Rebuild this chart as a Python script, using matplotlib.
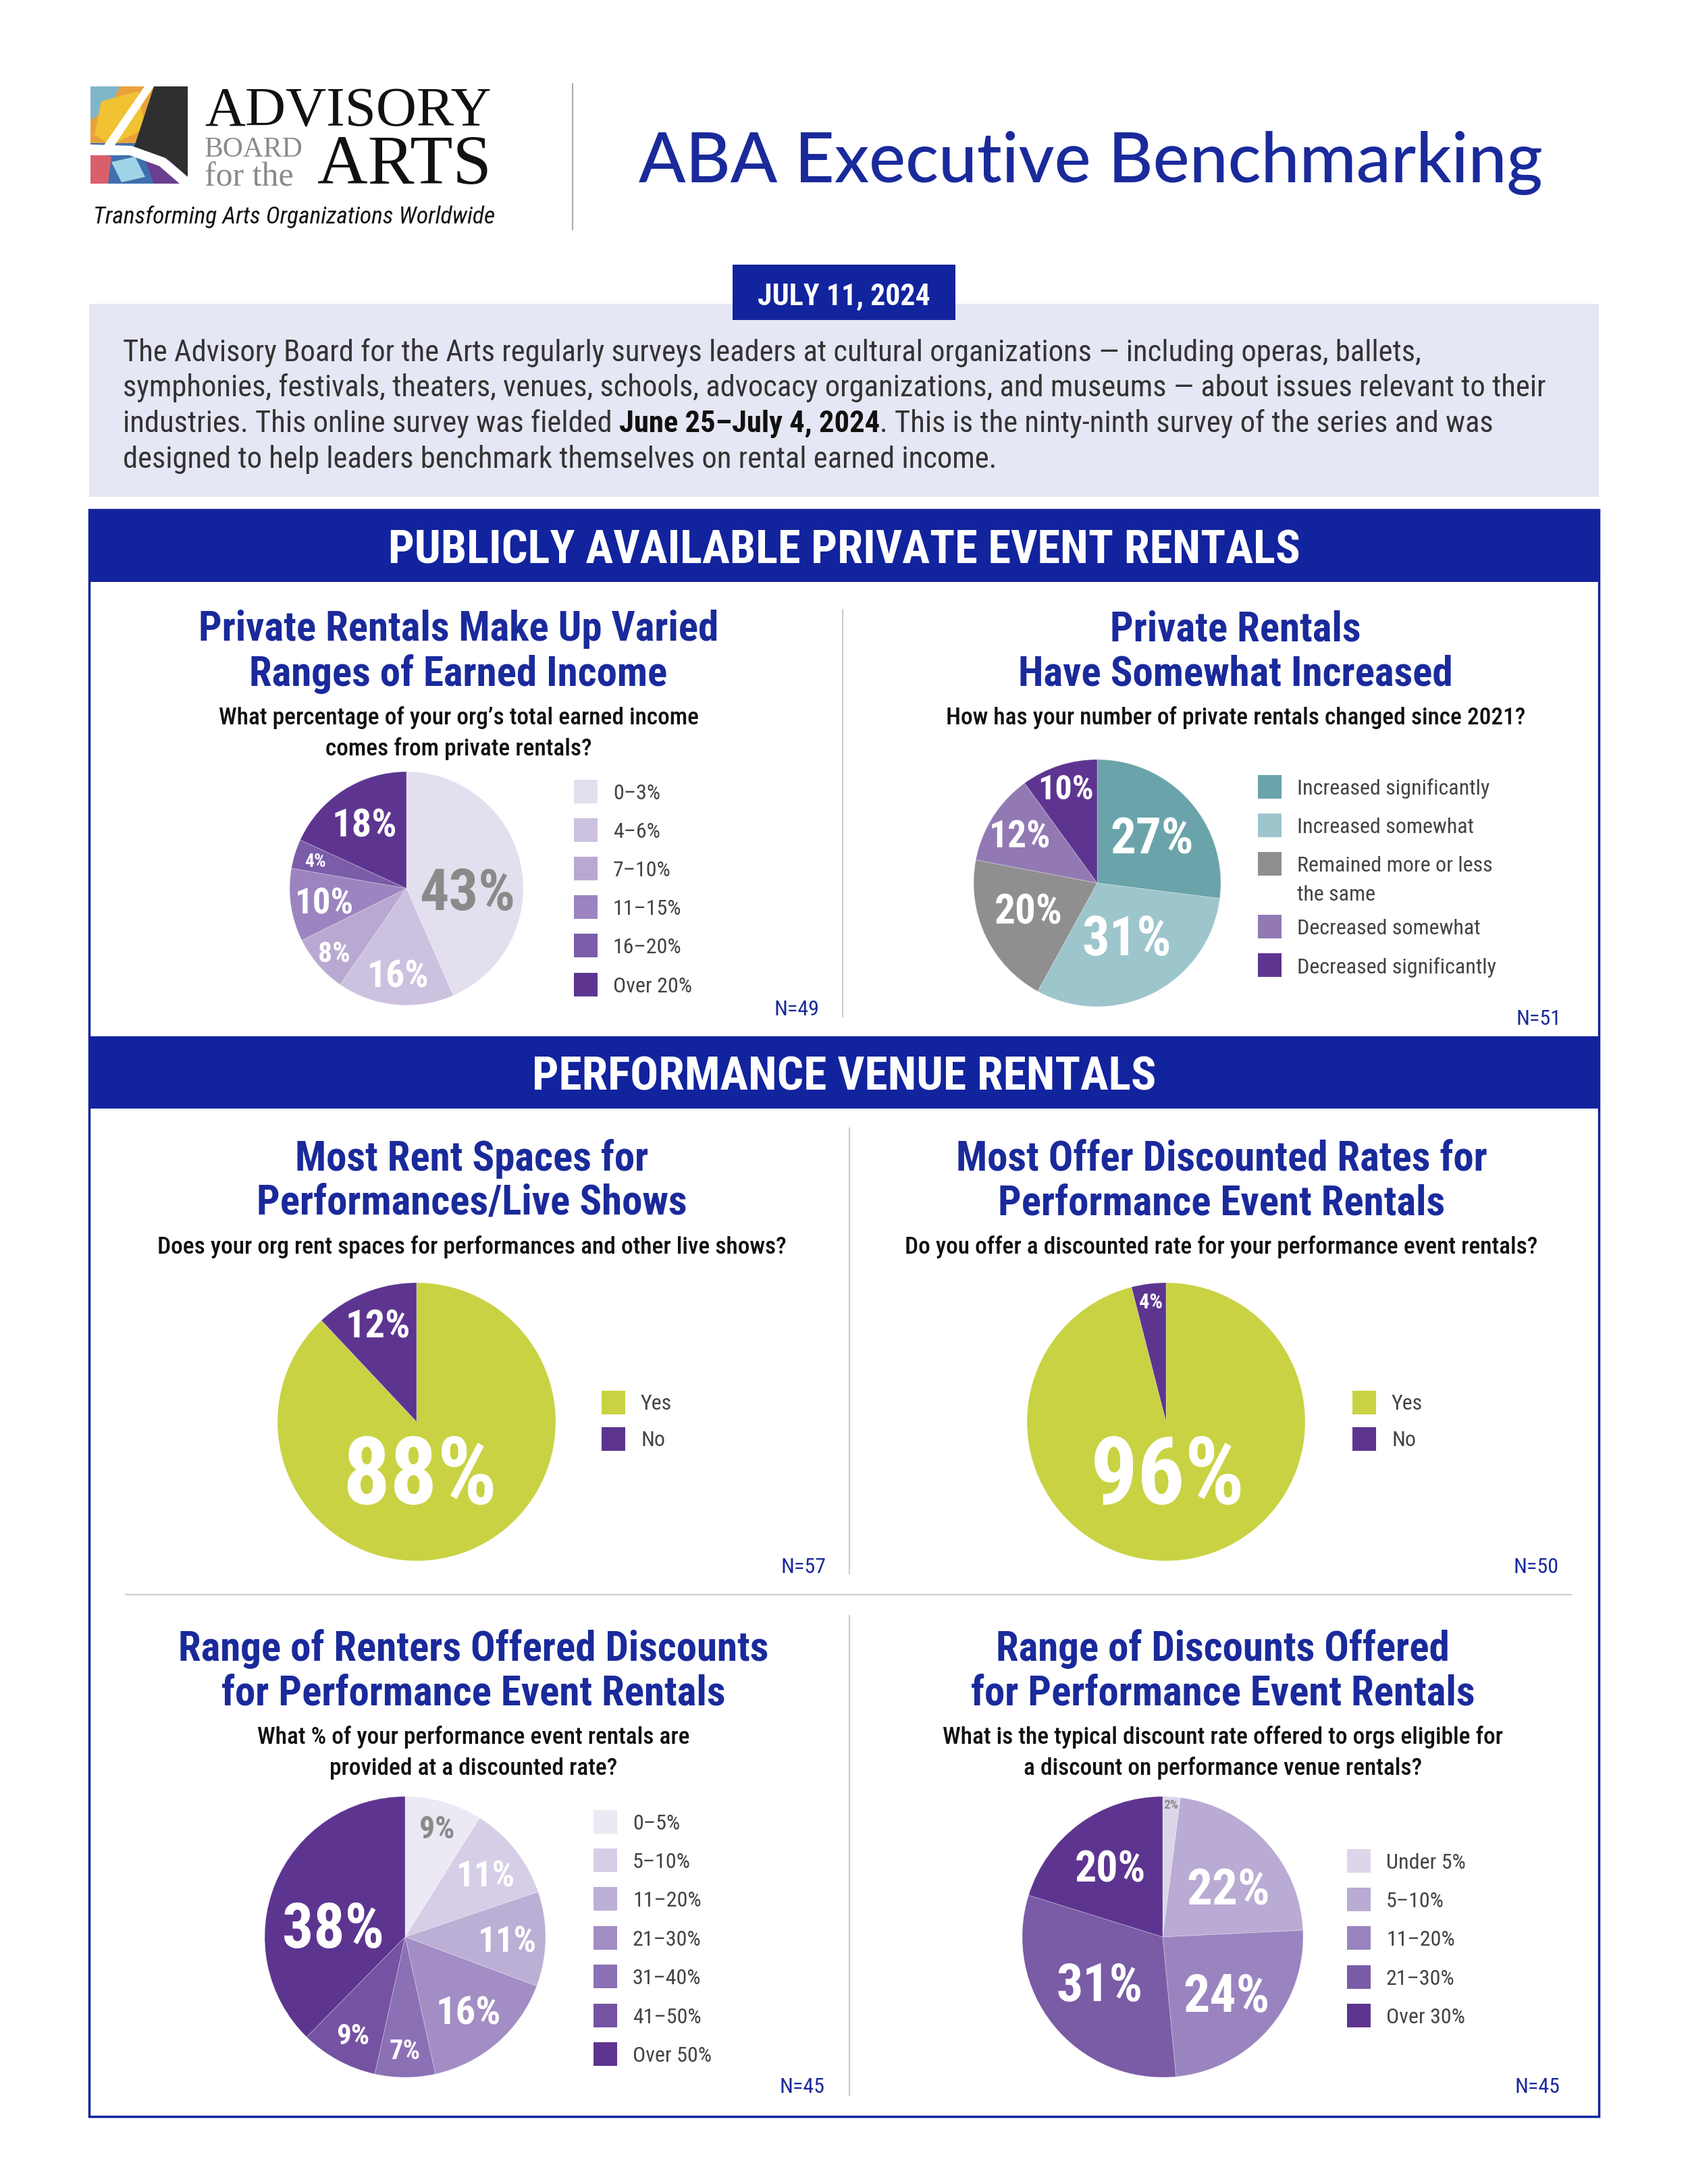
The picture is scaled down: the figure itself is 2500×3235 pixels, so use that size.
import matplotlib
matplotlib.use('Agg')
import matplotlib.pyplot as plt
from matplotlib import font_manager
from matplotlib.patches import Rectangle, Polygon
import numpy as np

W, H = 2500, 3235

# ---------------- data ----------------
income_labels = ['0–3%', '4–6%', '7–10%', '11–15%', '16–20%', 'Over 20%']
income_values = [43, 16, 8, 10, 4, 18]

change_labels = ['Increased significantly', 'Increased somewhat',
                 'Remained more or less\nthe same', 'Decreased somewhat',
                 'Decreased significantly']
change_values = [27, 31, 20, 12, 10]

rent_labels = ['Yes', 'No']
rent_values = [88, 12]

offer_labels = ['Yes', 'No']
offer_values = [96, 4]

renters_labels = ['0–5%', '5–10%', '11–20%', '21–30%', '31–40%', '41–50%', 'Over 50%']
renters_values = [9, 11, 11, 16, 7, 9, 38]

rate_labels = ['Under 5%', '5–10%', '11–20%', '21–30%', 'Over 30%']
rate_values = [2, 22, 24, 31, 20]

sample_sizes = [49, 51, 57, 50, 45, 45]

# ---------------- styles ----------------
BLUE = '#12239e'
TITLE_BLUE = '#1a2a9b'
PURPLE = '#5d3590'
GRAY_TXT = '#8a8a8a'

income_colors = ['#e3dfee', '#ccc1df', '#b8a9d2', '#9b84c0', '#7a5ca8', PURPLE]
change_colors = ['#6aa3aa', '#9dc5cc', '#8f8f8f', '#9279b4', PURPLE]
yes_no_colors = ['#c9d242', PURPLE]
renters_colors = ['#ece9f4', '#d6cee6', '#bcafd5', '#a28dc4', '#8b70b5', '#7552a2', PURPLE]
rate_colors = ['#ddd6ea', '#b9abd3', '#9a84c0', '#7a5ba6', PURPLE]

names = {f.name for f in font_manager.fontManager.ttflist}
SANS = 'Lato' if 'Lato' in names else 'DejaVu Sans'
SERIF = 'Liberation Serif' if 'Liberation Serif' in names else 'DejaVu Serif'
COND = next((n for n in ['Roboto Condensed', 'Liberation Sans Narrow',
                         'Open Sans Condensed', 'Noto Sans Condensed'] if n in names), SANS)

fig = plt.figure(figsize=(W / 100, H / 100), dpi=100)
fig.patch.set_facecolor('white')
bg = fig.add_axes([0, 0, 1, 1])
bg.set_xlim(0, W)
bg.set_ylim(H, 0)
bg.axis('off')
renderer = fig.canvas.get_renderer()


def measure(s, size, **kw):
    t = bg.text(0, 0, s, fontsize=size, **kw)
    w = t.get_window_extent(renderer).width
    t.remove()
    return w


def fit_size(s, width, max_size, **kw):
    w = measure(s, max_size, **kw)
    return max_size if w <= width else max_size * width / w


# ---------------- header / logo ----------------
# logo icon (decorative)
bg.add_patch(Rectangle((134, 128), 144, 144, fc='#e9a23b', lw=0))
bg.add_patch(Polygon([(134, 128), (178, 128), (160, 162), (134, 178)], fc='#7fb7c9', lw=0))
bg.add_patch(Polygon([(150, 150), (205, 135), (215, 190), (165, 215), (140, 200)], fc='#f1c232', lw=0))
bg.add_patch(Rectangle((134, 212), 144, 60, fc='#3f6fae', lw=0))
bg.add_patch(Polygon([(210, 225), (278, 218), (278, 272), (228, 272)], fc='#6b3f8f', lw=0))
bg.add_patch(Polygon([(134, 225), (165, 232), (160, 272), (134, 272)], fc='#d9606a', lw=0))
bg.add_patch(Polygon([(165, 240), (200, 232), (215, 262), (180, 270)], fc='#9fd3e6', lw=0))
bg.add_patch(Polygon([(228, 128), (278, 128), (278, 262), (252, 238), (222, 226), (196, 226)], fc='#2f2f2f', lw=0))
bg.add_patch(Polygon([(214, 128), (228, 128), (164, 224), (148, 224)], fc='white', lw=0))
bg.add_patch(Polygon([(134, 214), (195, 216), (245, 234), (278, 262), (278, 272), (266, 272),
                      (236, 246), (192, 230), (134, 230)], fc='white', lw=0))

bg.text(303, 186, 'ADVISORY', fontsize=fit_size('ADVISORY', 425, 80, family=SERIF),
        family=SERIF, color='#111111', va='baseline')
bg.text(303, 232, 'BOARD', fontsize=30, family=SERIF, color='#8a8a8a', va='baseline')
bg.text(303, 276, 'for the', fontsize=36, family=SERIF, color='#8a8a8a', va='baseline')
bg.text(470, 272, 'ARTS', fontsize=fit_size('ARTS', 258, 110, family=SERIF),
        family=SERIF, color='#111111', va='baseline')
tag = 'Transforming Arts Organizations Worldwide'
bg.text(138, 318, tag, fontsize=fit_size(tag, 594, 40, family=COND, style='italic'),
        family=COND, style='italic', color='#111111', va='center_baseline')

bg.plot([848, 848], [124, 340], color='#aaaaaa', lw=1.5)

title = 'ABA Executive Benchmarking'
bg.text(1615, 270, title, fontsize=fit_size(title, 1340, 90, family=SANS, weight='medium'),
        family=SANS, weight='medium', color=TITLE_BLUE, ha='center', va='baseline')

# ---------------- intro ----------------
bg.add_patch(Rectangle((132, 450), 2236, 286, fc='#e6e7f4', lw=0))
bg.add_patch(Rectangle((1085, 392), 330, 82, fc=BLUE, lw=0, zorder=3))
bg.text(1250, 435, 'JULY 11, 2024', fontsize=fit_size('JULY 11, 2024', 256, 32, family=COND, weight='bold'),
        family=COND, weight='bold', color='white', ha='center', va='center_baseline', zorder=4)

intro_lines = [
    [('The Advisory Board for the Arts regularly surveys leaders at cultural organizations — including operas, ballets,', False)],
    [('symphonies, festivals, theaters, venues, schools, advocacy organizations, and museums — about issues relevant to their', False)],
    [('industries. This online survey was fielded', False), ('June 25–July 4, 2024', True),
     ('. This is the ninty-ninth survey of the series and was', False)],
    [('designed to help leaders benchmark themselves on rental earned income.', False)],
]
intro_size = fit_size(intro_lines[1][0][0], 2114, 34, family=COND)
space = measure('a a', intro_size, family=COND) - measure('aa', intro_size, family=COND)
for i, parts in enumerate(intro_lines):
    x = 182
    y = 535 + i * 52.5
    for j, (s, bold) in enumerate(parts):
        if j > 0 and not s.startswith('.'):
            x += space
        kw = dict(family=COND, weight='bold' if bold else 'normal')
        bg.text(x, y, s, fontsize=intro_size, color='#111111' if bold else '#333333',
                va='baseline', **kw)
        x += measure(s, intro_size, **kw)

# ---------------- section frames ----------------
bg.add_patch(Rectangle((132, 755), 2236, 2380, fc='none', ec=BLUE, lw=2.5, zorder=5))
for y0, text, width in [(755, 'PUBLICLY AVAILABLE PRIVATE EVENT RENTALS', 1351),
                        (1535, 'PERFORMANCE VENUE RENTALS', 964)]:
    bg.add_patch(Rectangle((132, y0), 2236, 107, fc=BLUE, lw=0))
    bg.text(1250, y0 + 54, text, fontsize=fit_size(text, width, 50, family=COND, weight='bold'),
            family=COND, weight='bold', color='white', ha='center', va='center_baseline')

for x, y1, y2 in [(1248, 903, 1506), (1258, 1671, 2331), (1258, 2393, 3104)]:
    bg.plot([x, x], [y1, y2], color='#cccccc', lw=1.5)
bg.plot([186, 2327], [2362, 2362], color='#cccccc', lw=1.5)

# ---------------- panel titles ----------------
TSIZE = fit_size('Range of Renters Offered Discounts', 875, 50, family=COND, weight='bold')
SSIZE = fit_size('Do you offer a discounted rate for your performance event rentals?', 940, 30, family=COND, weight='medium')

panels = [
    (679, 926, ['Private Rentals Make Up Varied', 'Ranges of Earned Income'],
     ['What percentage of your org’s total earned income', 'comes from private rentals?']),
    (1830, 926, ['Private Rentals', 'Have Somewhat Increased'],
     ['How has your number of private rentals changed since 2021?']),
    (699, 1710, ['Most Rent Spaces for', 'Performances/Live Shows'],
     ['Does your org rent spaces for performances and other live shows?']),
    (1809, 1710, ['Most Offer Discounted Rates for', 'Performance Event Rentals'],
     ['Do you offer a discounted rate for your performance event rentals?']),
    (701, 2436, ['Range of Renters Offered Discounts', 'for Performance Event Rentals'],
     ['What % of your performance event rentals are', 'provided at a discounted rate?']),
    (1811, 2436, ['Range of Discounts Offered', 'for Performance Event Rentals'],
     ['What is the typical discount rate offered to orgs eligible for', 'a discount on performance venue rentals?']),
]
for cx, ty, tlines, slines in panels:
    for i, s in enumerate(tlines):
        bg.text(cx, ty + i * 66, s, fontsize=TSIZE, family=COND, weight='bold', color=TITLE_BLUE,
                ha='center', va='center_baseline')
    for i, s in enumerate(slines):
        bg.text(cx, ty + 134 + i * 46, s, fontsize=SSIZE, family=COND, weight='medium', color='#111111',
                ha='center', va='center_baseline')


# ---------------- pies ----------------
def draw_pie(cx, cy, r, values, colors, styles):
    ax = fig.add_axes([(cx - r) / W, 1 - (cy + r) / H, 2 * r / W, 2 * r / H])
    wedges, _ = ax.pie(values, colors=colors, startangle=90, counterclock=False,
                       wedgeprops=dict(linewidth=0.6, edgecolor=(1, 1, 1, 0.35)))
    ax.set_xlim(-1, 1)
    ax.set_ylim(-1, 1)
    ax.axis('off')
    for w in wedges:
        w.set_clip_on(False)
    for w, v, (dist, nudge, size, col) in zip(wedges, values, styles):
        ang = np.deg2rad((w.theta1 + w.theta2) / 2 + nudge)
        ax.text(dist * np.cos(ang), dist * np.sin(ang), f'{v}%', ha='center', va='center_baseline',
                fontsize=size, color=col, family=COND, weight='bold')


def draw_legend(x, y0, step, labels, colors, size=23, box=35):
    y = y0
    for lab, col in zip(labels, colors):
        bg.add_patch(Rectangle((x, y - box / 2), box, box, fc=col, lw=0))
        lines = lab.split('\n')
        for i, line in enumerate(lines):
            bg.text(x + box + 23, y + i * 43, line, fontsize=size, family=COND, color='#444444',
                    ha='left', va='center_baseline')
        y += step + (len(lines) - 1) * 36


WH = 'white'
draw_pie(602, 1316, 173, income_values, income_colors,
         [(.52, -12, 62, GRAY_TXT), (.73, 0, 40, WH), (.82, 0, 30, WH),
          (.71, 0, 38, WH), (.82, 0, 20, WH), (.67, 0, 42, WH)])
draw_legend(850, 1172, 57.2, income_labels, income_colors)

draw_pie(1625, 1308, 183, change_values, change_colors,
         [(.59, 0, 54, WH), (.48, 3, 58, WH), (.59, -5, 44, WH), (.74, 0, 40, WH), (.82, 0, 36, WH)])
draw_legend(1863, 1165, 57.2, change_labels, change_colors)

draw_pie(617, 2106, 206, rent_values, yes_no_colors, [(.34, -18, 100, WH), (.76, 0, 42, WH)])
draw_legend(891, 2077, 54, rent_labels, yes_no_colors)

draw_pie(1727, 2106, 206, offer_values, yes_no_colors, [(.34, -5, 100, WH), (.88, 0, 22, WH)])
draw_legend(2003, 2077, 54, offer_labels, yes_no_colors)

draw_pie(600, 2869, 208, renters_values, renters_colors,
         [(.82, 0, 33, GRAY_TXT), (.73, 0, 38, WH), (.73, 0, 38, WH), (.69, 0, 42, WH),
          (.8, 0, 29, WH), (.78, 0, 31, WH), (.52, 12, 66, WH)])
draw_legend(879, 2698, 57.4, renters_labels, renters_colors)

draw_pie(1722, 2869, 208, rate_values, rate_colors,
         [(.95, 0, 14, GRAY_TXT), (.59, -5, 54, WH), (.6, 0, 56, WH), (.55, -4, 56, WH), (.63, 0, 46, WH)])
draw_legend(1995, 2756, 57.4, rate_labels, rate_colors)

# sample sizes
for (x, y), n in zip([(1180, 1493), (2279, 1506), (1190, 2318), (2275, 2318), (1188, 3088), (2277, 3088)],
                     sample_sizes):
    bg.text(x, y, f'N={n}', fontsize=23, family=COND, color=TITLE_BLUE, ha='center', va='center_baseline')

fig.savefig('out.png', dpi=100, facecolor='white')
